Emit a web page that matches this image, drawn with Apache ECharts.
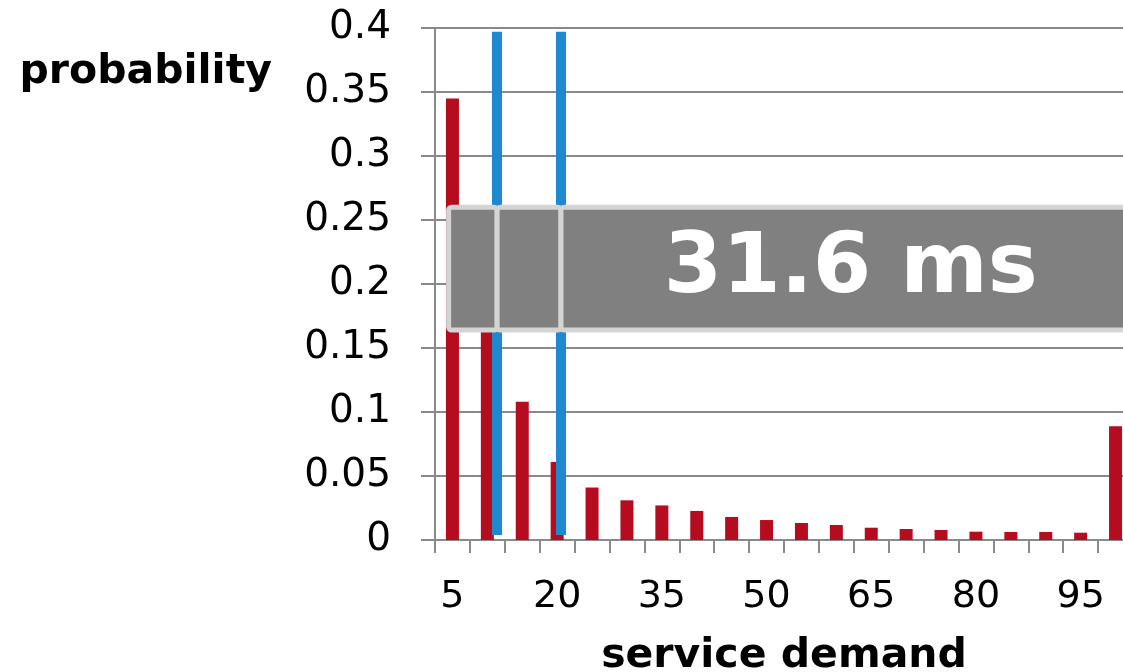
<!DOCTYPE html>
<html>
<head>
<meta charset="utf-8">
<script src="https://cdn.jsdelivr.net/npm/echarts@6/dist/echarts.min.js"></script>
<style>html,body{margin:0;padding:0;background:#fff}#c{width:1123px;height:672px}</style>
</head>
<body>
<div id="c"></div>
<script>
// ---- data ----
const categories = ['5','10','15','20','25','30','35','40','45','50','55','60','65','70','75','80','85','90','95','100'];
const probability = [0.345, 0.17, 0.108, 0.061, 0.041, 0.031, 0.027, 0.0227, 0.018, 0.0156, 0.0133, 0.0117, 0.0096, 0.0086, 0.0078, 0.0065, 0.0063, 0.0063, 0.0057, 0.0888];
const blueLinesX = [11.4, 20.55];          // service demand positions of the blue markers
const blueLinesY = [0.004, 0.397];         // vertical extent of the blue markers
const boxBoundsX = [4.45, 11.4, 20.55, 103.6]; // segment edges of the grey banner
const boxBoundsY = [0.164, 0.26];
const bannerText = '31.6 ms';
const yName = 'probability';
const xName = 'service demand';

const FONT = 'DejaVu Sans';
const AXIS = '#8a8a8a';
const chart = echarts.init(document.getElementById('c'), null, {renderer: 'canvas'});

chart.setOption({
  animation: false,
  backgroundColor: '#ffffff',
  grid: {left: 435, right: -10, top: 28, bottom: 132, containLabel: false, outerBoundsMode: 'none'},
  xAxis: [{
    type: 'category',
    data: categories,
    boundaryGap: true,
    axisLine: {lineStyle: {color: AXIS, width: 2}},
    axisTick: {show: true, interval: 0, length: 13, lineStyle: {color: AXIS, width: 2}},
    axisLabel: {interval: 2, margin: 38, color: '#000', fontFamily: FONT, fontSize: 38},
    name: xName,
    nameLocation: 'middle',
    nameGap: 116,
    nameTextStyle: {color: '#000', fontFamily: FONT, fontWeight: 'bold', fontSize: 41, verticalAlign: 'middle'}
  }, {
    type: 'value',
    min: 2.5,
    max: 102.5,
    show: false
  }],
  yAxis: [{
    type: 'value',
    min: 0,
    max: 0.4,
    interval: 0.05,
    axisLine: {show: true, lineStyle: {color: AXIS, width: 2}},
    axisTick: {show: true, length: 14, lineStyle: {color: AXIS, width: 2}},
    splitLine: {show: true, lineStyle: {color: AXIS, width: 2}},
    axisLabel: {margin: 44, color: '#000', fontFamily: FONT, fontSize: 39},
    name: yName,
    nameLocation: 'end',
    nameGap: -44,
    nameTextStyle: {color: '#000', fontFamily: FONT, fontWeight: 'bold', fontSize: 41, align: 'right', verticalAlign: 'middle', padding: [0, 163, 0, 0]}
  }],
  series: [{
    type: 'bar',
    data: probability,
    barWidth: 13,
    itemStyle: {color: '#b50d1f'},
    z: 2
  }, {
    type: 'scatter',
    xAxisIndex: 1,
    yAxisIndex: 0,
    data: [],
    symbolSize: 0,
    z: 3,
    markLine: {
      silent: true,
      symbol: ['none', 'none'],
      label: {show: false},
      lineStyle: {color: '#1e88d0', width: 10, type: 'solid', cap: 'butt'},
      data: blueLinesX.map(x => [{coord: [x, blueLinesY[0]]}, {coord: [x, blueLinesY[1]]}])
    }
  }]
});

// banner drawn over the plot, positioned through the axes
function px(x) { return chart.convertToPixel({xAxisIndex: 1}, x); }
function py(y) { return chart.convertToPixel({yAxisIndex: 0}, y); }
const yTop = py(boxBoundsY[1]), yBot = py(boxBoundsY[0]);
const elements = [];
for (let i = 0; i < boxBoundsX.length - 1; i++) {
  const x0 = px(boxBoundsX[i]), x1 = px(boxBoundsX[i + 1]);
  elements.push({
    type: 'rect',
    z: 100,
    shape: {x: x0, y: yTop, width: x1 - x0, height: yBot - yTop, r: 3},
    style: {fill: '#808080', stroke: '#d4d4d4', lineWidth: 5}
  });
}
const tx0 = px(boxBoundsX[2]), tx1 = px(boxBoundsX[3]);
elements.push({
  type: 'text',
  z: 101,
  x: (tx0 + tx1) / 2,
  y: (yTop + yBot) / 2 + 2,
  style: {text: bannerText, fill: '#ffffff', font: 'bold 84px "DejaVu Sans"', align: 'center', verticalAlign: 'middle'}
});
chart.setOption({graphic: {elements: elements}});
</script>
</body>
</html>
